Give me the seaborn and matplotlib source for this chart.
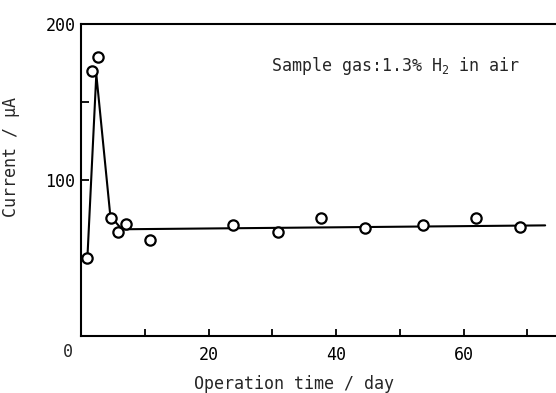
import numpy as np
import pandas as pd
import matplotlib
matplotlib.use("Agg")
import matplotlib.pyplot as plt
import seaborn as sns

# measured points (day, current uA)
days = [1.0, 1.8, 2.7, 4.7, 5.8, 7.0, 10.8, 23.9, 30.9, 37.6, 44.6, 53.7, 61.9, 68.8]
current = [50, 170, 179, 76, 67, 72, 61.5, 71, 67, 76, 69, 71, 76, 70]

# hand drawn trend line
line_days = [1.0, 2.4, 4.6, 6.4, 72.8]
line_current = [50, 168, 77, 68.5, 71]

x_ticks = [20, 40, 60]
x_minor = [10, 30, 50, 70]
y_ticks = [100, 200]
y_minor = [50, 150]

sns.set_style("ticks")
plt.rcParams['font.family'] = ['DejaVu Sans Mono', 'DejaVu Sans']
plt.rcParams['mathtext.fontset'] = 'custom'
plt.rcParams['mathtext.rm'] = 'DejaVu Sans Mono'
plt.rcParams['mathtext.it'] = 'DejaVu Sans Mono'

df = pd.DataFrame({'day': days, 'current': current})
dl = pd.DataFrame({'day': line_days, 'current': line_current})

fig = plt.figure(figsize=(5.56, 3.93), dpi=100)
ax = fig.add_axes([0.1457, 0.145, 0.8543, 0.793])

sns.lineplot(x='day', y='current', data=dl, ax=ax, color='black', linewidth=1.5, sort=False)
sns.scatterplot(x='day', y='current', data=df, ax=ax, marker='o', s=55,
                facecolor='white', edgecolor='black', linewidth=1.6, zorder=3)

ax.set_xlim(0, 74.5)
ax.set_ylim(0, 200)
ax.set_xticks(x_ticks)
ax.set_xticks(x_minor, minor=True)
ax.set_yticks(y_ticks)
ax.set_yticks(y_minor, minor=True)
ax.tick_params(axis='both', which='both', direction='in', width=1.3, labelsize=12, colors='black')
ax.tick_params(axis='x', which='both', length=5, pad=7)
ax.tick_params(axis='y', which='both', length=6, pad=4)

for s in ['left', 'bottom', 'top']:
    ax.spines[s].set_linewidth(1.5)
    ax.spines[s].set_color('black')
ax.spines['right'].set_visible(False)

ax.set_xlabel('Operation time / day', fontsize=12)
ax.set_ylabel('Current / µA', fontsize=12)
ax.xaxis.set_label_coords(0.448, -0.125)
ax.yaxis.set_label_coords(-0.128, 0.574)

ax.text(-0.028, -0.05, '0', transform=ax.transAxes, fontsize=12, ha='center', va='center')
ax.text(0.401, 0.865, 'Sample gas:1.3% H$_2$ in air', transform=ax.transAxes,
        fontsize=12, ha='left', va='center')

fig.savefig('out.png', dpi=100)
